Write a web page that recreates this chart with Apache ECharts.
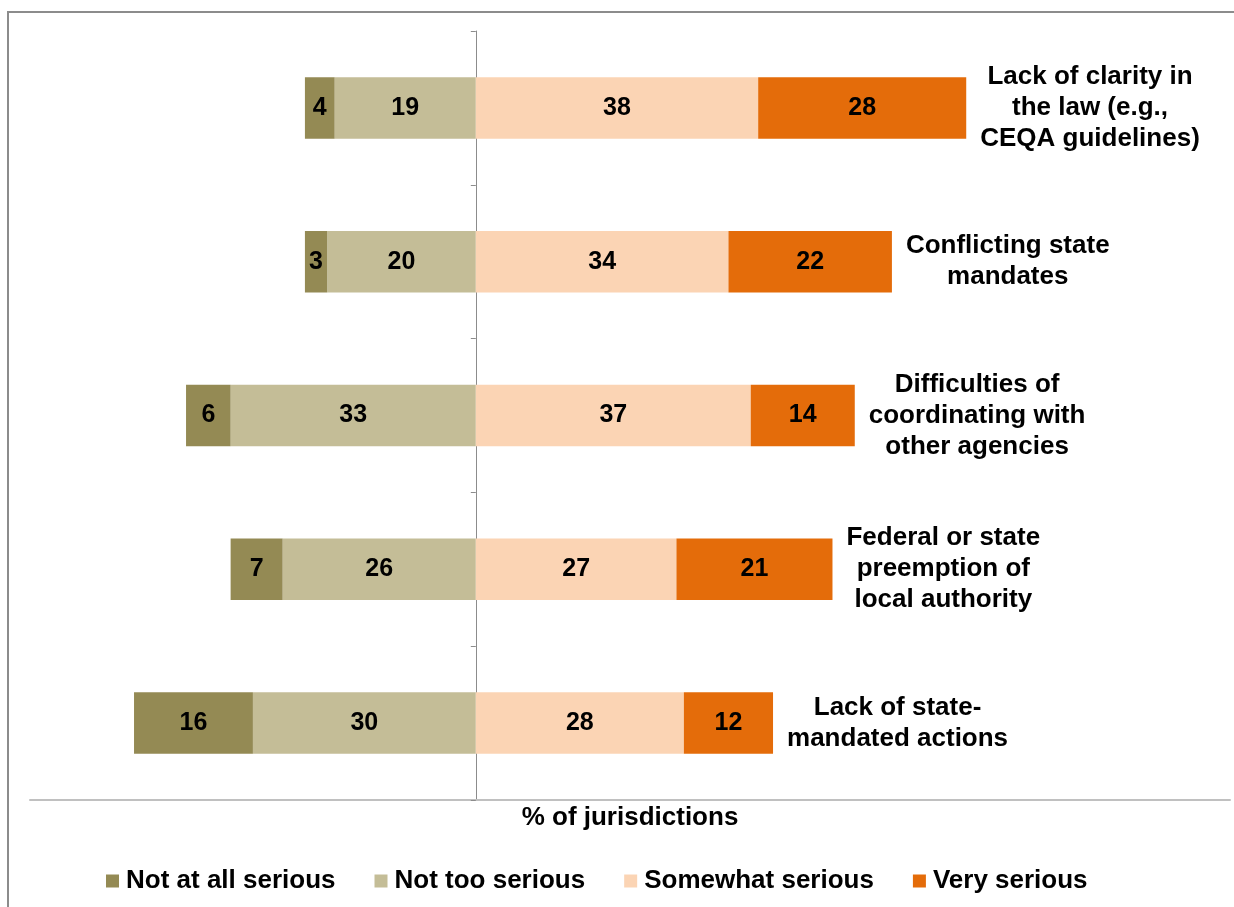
<!DOCTYPE html>
<html>
<head>
<meta charset="utf-8">
<script src="https://cdn.jsdelivr.net/npm/echarts@6/dist/echarts.min.js"></script>
<style>
  html, body { margin: 0; padding: 0; background: #fff; }
  #chart { width: 1234px; height: 907px; }
</style>
</head>
<body>
<div id="chart"></div>
<script>
// categories, top to bottom
var categories = [
  'Lack of clarity in\nthe law (e.g.,\nCEQA guidelines)',
  'Conflicting state\nmandates',
  'Difficulties of\ncoordinating with\nother agencies',
  'Federal or state\npreemption of\nlocal authority',
  'Lack of state-\nmandated actions'
];
var notAtAll = [4, 3, 6, 7, 16];
var notToo = [19, 20, 33, 26, 30];
var somewhat = [38, 34, 37, 27, 28];
var very = [28, 22, 14, 21, 12];

var seriesNames = ['Not at all serious', 'Not too serious', 'Somewhat serious', 'Very serious'];
var colors = ['#948A54', '#C4BD97', '#FBD4B4', '#E46C0A'];

var font = 'Liberation Sans, Arial, sans-serif';

var myChart = echarts.init(document.getElementById('chart'));

// label inside each segment, shows the absolute value
function segLabel() {
  return {
    show: true,
    position: 'inside',
    color: '#000',
    fontFamily: font,
    fontWeight: 'bold',
    fontSize: 25,
    formatter: function (p) { return Math.abs(p.value); }
  };
}

var option = {
  animation: false,
  backgroundColor: '#fff',
  graphic: [{
    type: 'rect',
    shape: { x: 8, y: 12, width: 1240, height: 910 },
    style: { fill: 'none', stroke: '#8c8c8c', lineWidth: 2 },
    silent: true
  }],
  grid: { left: 30, right: 4, top: 31, bottom: 107 },
  legend: {
    data: seriesNames,
    left: 101,
    top: 863,
    itemWidth: 13,
    itemHeight: 13,
    itemGap: 39,
    icon: 'rect',
    textStyle: { fontFamily: font, fontWeight: 'bold', fontSize: 26, color: '#000', padding: [0, 0, 0, 2] }
  },
  xAxis: {
    type: 'value',
    min: -60,
    max: 101.5,
    name: '% of jurisdictions',
    nameLocation: 'middle',
    nameGap: 5,
    nameTextStyle: { fontFamily: font, fontWeight: 'bold', fontSize: 26, color: '#000', verticalAlign: 'top' },
    axisLine: { show: true, onZero: false, lineStyle: { color: '#c0c0c0', width: 2 } },
    axisTick: { show: false },
    axisLabel: { show: false },
    splitLine: { show: false }
  },
  yAxis: {
    type: 'category',
    data: categories,
    inverse: true,
    axisLine: { show: true, onZero: true, lineStyle: { color: '#8c8c8c', width: 1 } },
    axisTick: { show: true, length: 5, lineStyle: { color: '#8c8c8c' } },
    axisLabel: { show: false },
    splitLine: { show: false }
  },
  series: [
    {
      name: seriesNames[1], type: 'bar', stack: 'total', barCategoryGap: '60%',
      itemStyle: { color: colors[1] },
      label: segLabel(),
      data: notToo.map(function (v) { return -v; })
    },
    {
      name: seriesNames[0], type: 'bar', stack: 'total',
      itemStyle: { color: colors[0] },
      label: segLabel(),
      data: notAtAll.map(function (v) { return -v; })
    },
    {
      name: seriesNames[2], type: 'bar', stack: 'total',
      itemStyle: { color: colors[2] },
      label: segLabel(),
      data: somewhat
    },
    {
      name: seriesNames[3], type: 'bar', stack: 'total',
      itemStyle: { color: colors[3] },
      label: segLabel(),
      data: very
    },
    {
      // zero-width segment at the end of each bar, carries the category text
      name: 'category', type: 'bar', stack: 'total',
      itemStyle: { color: 'transparent' },
      label: {
        show: true,
        position: 'right',
        distance: 14,
        formatter: function (p) {
          return p.name.split('\n').map(function (s) { return '{c|' + s + '}'; }).join('\n');
        },
        rich: {
          c: { align: 'center', fontFamily: font, fontWeight: 'bold', fontSize: 26, lineHeight: 31, color: '#000' }
        }
      },
      data: categories.map(function () { return 0; })
    }
  ]
};

myChart.setOption(option);
</script>
</body>
</html>
